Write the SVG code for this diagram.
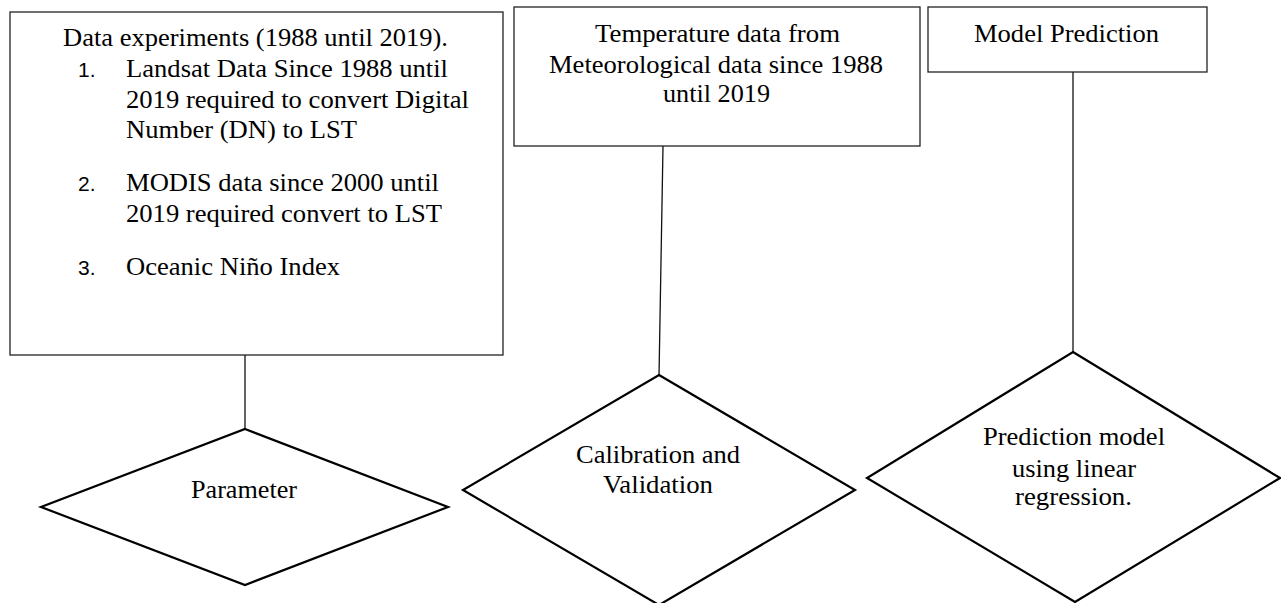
<svg xmlns="http://www.w3.org/2000/svg" width="1281" height="603" viewBox="0 0 1281 603">
<style>
.box{fill:#fff;stroke:#222;stroke-width:1.3}
.dia{fill:#fff;stroke:#000;stroke-width:2.2}
.con{stroke:#111;stroke-width:1.3;fill:none}
.t{font-family:"Liberation Serif","Times New Roman",serif;font-size:26px;fill:#000}
.n{font-family:"Liberation Sans",Arial,sans-serif;font-size:21px;fill:#000}
</style>
<rect width="1281" height="603" fill="#fff"/>
<g id="connectors">
<line class="con" x1="245" y1="355" x2="245" y2="432"/>
<line class="con" x1="663" y1="146" x2="659" y2="377"/>
<line class="con" x1="1073" y1="72" x2="1073" y2="354"/>
</g>
<g id="box-data">
<rect class="box" x="10" y="12" width="493" height="343"/>
<text class="t" x="63" y="46" textLength="385" lengthAdjust="spacingAndGlyphs">Data experiments (1988 until 2019).</text>
<text class="n" x="78" y="77">1.</text>
<text class="t" x="126" y="77" textLength="322" lengthAdjust="spacingAndGlyphs">Landsat Data Since 1988 until</text>
<text class="t" x="126" y="108" textLength="343" lengthAdjust="spacingAndGlyphs">2019 required to convert Digital</text>
<text class="t" x="126" y="138" textLength="231" lengthAdjust="spacingAndGlyphs">Number (DN) to LST</text>
<text class="n" x="78" y="191">2.</text>
<text class="t" x="126" y="191" textLength="313" lengthAdjust="spacingAndGlyphs">MODIS data since 2000 until</text>
<text class="t" x="126" y="222" textLength="316" lengthAdjust="spacingAndGlyphs">2019 required convert to LST</text>
<text class="n" x="78" y="275">3.</text>
<text class="t" x="126" y="275" textLength="214" lengthAdjust="spacingAndGlyphs">Oceanic Niño Index</text>
</g>
<g id="box-temperature">
<rect class="box" x="514" y="7" width="406" height="139"/>
<text class="t" x="595" y="42" textLength="245" lengthAdjust="spacingAndGlyphs">Temperature data from</text>
<text class="t" x="549" y="73" textLength="334" lengthAdjust="spacingAndGlyphs">Meteorological data since 1988</text>
<text class="t" x="663" y="102" textLength="107" lengthAdjust="spacingAndGlyphs">until 2019</text>
</g>
<g id="box-model">
<rect class="box" x="928" y="7" width="279" height="65"/>
<text class="t" x="974" y="42" textLength="185" lengthAdjust="spacingAndGlyphs">Model Prediction</text>
</g>
<g id="dia-parameter">
<polygon class="dia" points="245,429 448,507 245,585 41,507"/>
<text class="t" x="191" y="498" textLength="106" lengthAdjust="spacingAndGlyphs">Parameter</text>
</g>
<g id="dia-calibration">
<polygon class="dia" points="659,375 855,490 659,605 463,490"/>
<text class="t" x="576" y="463" textLength="164" lengthAdjust="spacingAndGlyphs">Calibration and</text>
<text class="t" x="603" y="493" textLength="110" lengthAdjust="spacingAndGlyphs">Validation</text>
</g>
<g id="dia-prediction">
<polygon class="dia" points="1073,352 1280,478 1075,602 867,478"/>
<text class="t" x="983" y="445" textLength="182" lengthAdjust="spacingAndGlyphs">Prediction model</text>
<text class="t" x="1012" y="477" textLength="124" lengthAdjust="spacingAndGlyphs">using linear</text>
<text class="t" x="1015" y="505" textLength="117" lengthAdjust="spacingAndGlyphs">regression.</text>
</g>
</svg>
